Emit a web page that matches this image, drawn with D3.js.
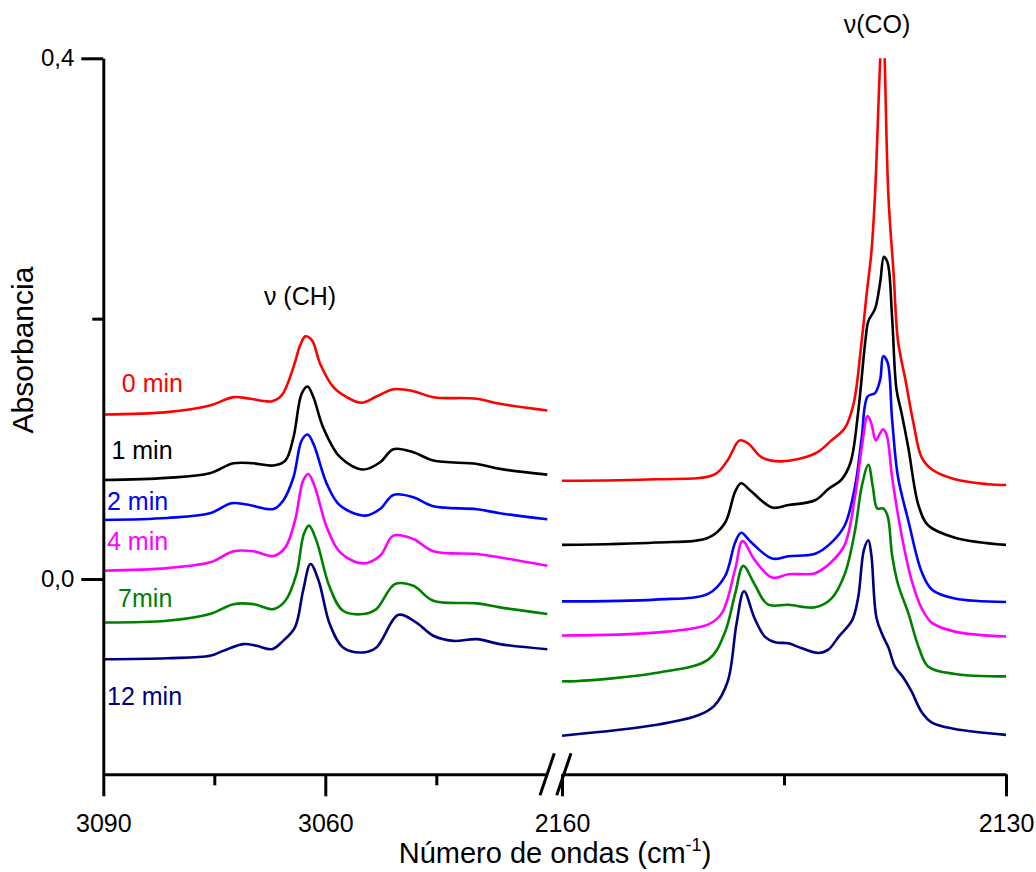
<!DOCTYPE html>
<html>
<head>
<meta charset="utf-8">
<script src="https://cdn.jsdelivr.net/npm/d3@7"></script>
<style>
  html, body { margin: 0; padding: 0; background: #fff; }
  svg { display: block; font-family: "Liberation Sans", Arial, sans-serif; }
</style>
</head>
<body>
<svg id="chart" width="1036" height="872"></svg>
<script>
// ---------- DATA ----------
// Left panel: ν(CH) region, [wavenumber (cm-1), absorbance]
const ch_0min = [[3090,0.1264],[3081.4,0.1282],[3075.6,0.1333],[3072.4,0.1397],[3070.2,0.1385],[3067.2,0.1366],[3065.9,0.141],[3064.3,0.1628],[3063.4,0.1795],[3062.7,0.1864],[3061.8,0.1833],[3060.7,0.1654],[3058.9,0.1474],[3057.1,0.1397],[3055.1,0.1354],[3053.1,0.1402],[3050.8,0.1458],[3048.1,0.1443],[3045.4,0.1397],[3039.5,0.1385],[3036.4,0.1346],[3030,0.1295]];
const ch_1min = [[3090,0.0761],[3081.4,0.0777],[3075.6,0.0813],[3072.4,0.0889],[3069.7,0.0889],[3067.0,0.0872],[3065.4,0.0910],[3064.3,0.1089],[3063.2,0.1423],[3062.4,0.1479],[3061.6,0.1397],[3060.3,0.1166],[3058.0,0.0936],[3054.9,0.0841],[3052.6,0.0897],[3050.8,0.0997],[3048.1,0.0974],[3045.4,0.0910],[3039.5,0.0884],[3036.4,0.0846],[3030,0.0802]];
const ch_2min = [[3090,0.0454],[3081.4,0.0469],[3075.6,0.0505],[3072.7,0.0582],[3070.6,0.0572],[3067.0,0.0538],[3065.7,0.0602],[3064.3,0.0782],[3063.2,0.1064],[3062.4,0.1110],[3061.6,0.1038],[3059.8,0.0731],[3058.0,0.0564],[3054.6,0.0487],[3052.6,0.0538],[3050.8,0.0646],[3048.1,0.0628],[3045.4,0.0559],[3039.5,0.0536],[3036.4,0.0505],[3030,0.0459]];
const ch_4min = [[3090,0.0064],[3081.4,0.0084],[3075.6,0.0128],[3072.4,0.0213],[3069.7,0.0213],[3067.0,0.0177],[3065.4,0.0243],[3064.1,0.0448],[3063.0,0.0756],[3062.3,0.0807],[3061.4,0.0705],[3059.8,0.0397],[3058.0,0.0205],[3054.9,0.0120],[3052.6,0.0179],[3050.8,0.0333],[3048.1,0.0307],[3045.4,0.0213],[3039.5,0.0192],[3036.4,0.0166],[3030,0.0102]];
const ch_7min = [[3090,-0.0334],[3081.4,-0.0321],[3075.6,-0.0269],[3072.4,-0.0193],[3069.7,-0.0193],[3067.0,-0.0231],[3065.4,-0.0167],[3063.9,0.0038],[3062.9,0.0346],[3062.2,0.0410],[3061.2,0.0295],[3059.4,-0.0064],[3057.6,-0.0244],[3054.9,-0.0269],[3053.1,-0.0231],[3050.6,-0.0039],[3048.1,-0.0052],[3045.4,-0.0167],[3039.5,-0.0187],[3036.4,-0.0218],[3030,-0.0269]];
const ch_12min = [[3090,-0.0616],[3081.4,-0.0608],[3075.6,-0.0590],[3073.8,-0.0552],[3071.1,-0.0500],[3069.3,-0.0513],[3067.2,-0.0539],[3065.7,-0.0475],[3064.1,-0.0372],[3063.0,-0.0090],[3062.0,0.0115],[3060.9,-0.0013],[3059.4,-0.0346],[3057.6,-0.0526],[3054.9,-0.0564],[3053.1,-0.0526],[3050.1,-0.0275],[3047.7,-0.0334],[3045.4,-0.0436],[3042.7,-0.0475],[3039.5,-0.0462],[3036.4,-0.0500],[3030,-0.0539]];

// Right panel: ν(CO) region
const co_0min = [[2160,0.0755],[2153.7,0.0766],[2149.7,0.0803],[2148.8,0.0915],[2148.0,0.1065],[2147.4,0.1039],[2146.5,0.0934],[2145.2,0.0904],[2142.9,0.0964],[2141.8,0.1065],[2140.9,0.1158],[2140.3,0.1345],[2139.75,0.1832],[2139.4,0.2205],[2139.1,0.2505],[2138.85,0.2953],[2138.6,0.3701],[2138.5,0.40],[2138.35,0.45],[2138.2,0.40],[2137.95,0.2953],[2137.6,0.2355],[2137.3,0.1832],[2136.8,0.1532],[2136.25,0.1196],[2135.7,0.0934],[2135.0,0.0841],[2133.45,0.0766],[2131.2,0.0728],[2130,0.0722]];
const co_1min = [[2160,0.0262],[2153.7,0.0280],[2150.1,0.0318],[2149.0,0.0429],[2148.3,0.0672],[2147.9,0.0736],[2147.2,0.0672],[2145.8,0.0549],[2144.7,0.0568],[2142.9,0.0605],[2142.0,0.0692],[2141.1,0.0766],[2140.5,0.0897],[2140.0,0.1271],[2139.5,0.1832],[2139.3,0.1981],[2138.85,0.2075],[2138.5,0.2280],[2138.25,0.2475],[2138.0,0.2430],[2137.7,0.2018],[2137.4,0.1458],[2137.05,0.1271],[2136.6,0.1009],[2135.9,0.0561],[2135.25,0.0411],[2133.45,0.0318],[2130,0.0262]];
const co_2min = [[2160,-0.0172],[2153.7,-0.0158],[2150.1,-0.0112],[2149.0,0.0018],[2148.3,0.0280],[2147.9,0.0355],[2147.2,0.0280],[2145.8,0.0157],[2144.7,0.0175],[2142.9,0.0194],[2141.8,0.0280],[2140.9,0.0411],[2140.2,0.0710],[2139.75,0.1084],[2139.35,0.1402],[2138.85,0.1428],[2138.5,0.1532],[2138.3,0.1712],[2138.0,0.1663],[2137.7,0.1233],[2137.3,0.0785],[2136.6,0.0448],[2135.7,0.0055],[2135.0,-0.0082],[2133.45,-0.0150],[2130,-0.0176]];
const co_4min = [[2160,-0.0434],[2153.7,-0.0412],[2150.1,-0.0348],[2149.2,-0.0262],[2148.3,0.0075],[2147.8,0.0292],[2147.0,0.0149],[2145.8,0.0011],[2144.7,0.0037],[2142.9,0.0045],[2141.8,0.0131],[2140.9,0.0262],[2140.2,0.0635],[2139.75,0.1009],[2139.35,0.1252],[2139.1,0.1196],[2138.8,0.1065],[2138.5,0.1122],[2138.3,0.1151],[2138.05,0.1102],[2137.7,0.0785],[2137.05,0.0336],[2136.4,0.0],[2135.7,-0.0225],[2135.0,-0.0337],[2133.45,-0.0404],[2130,-0.0442]];
const co_7min = [[2160,-0.0785],[2159.1,-0.0785],[2153.7,-0.0722],[2150.1,-0.0617],[2149.0,-0.0412],[2148.3,-0.0112],[2147.75,0.0101],[2147.0,-0.0038],[2146.1,-0.0195],[2144.7,-0.0198],[2142.9,-0.0217],[2141.8,-0.0150],[2140.9,0.0037],[2140.2,0.0374],[2139.75,0.0710],[2139.3,0.0878],[2139.0,0.0710],[2138.7,0.0542],[2138.3,0.0542],[2138.0,0.0485],[2137.7,0.0187],[2137.3,-0.0038],[2136.6,-0.0262],[2135.9,-0.0524],[2135.25,-0.0673],[2133.45,-0.0729],[2130,-0.0748]];
const co_12min = [[2160,-0.1204],[2153.7,-0.1122],[2150.8,-0.1047],[2149.7,-0.0972],[2148.8,-0.0785],[2148.2,-0.0337],[2147.7,-0.0094],[2147.0,-0.0299],[2146.3,-0.0442],[2145.6,-0.0486],[2144.7,-0.0494],[2143.8,-0.0532],[2142.7,-0.0568],[2142.0,-0.0542],[2141.3,-0.0442],[2140.4,-0.0318],[2140.0,-0.0150],[2139.6,0.0224],[2139.3,0.0298],[2139.1,0.0187],[2138.75,-0.0299],[2138.3,-0.0442],[2137.95,-0.0524],[2137.5,-0.0673],[2136.95,-0.0755],[2136.4,-0.0860],[2135.7,-0.1021],[2135.0,-0.1103],[2133.45,-0.1152],[2130,-0.1197]];

const seriesNames = ["0 min", "1 min", "2 min", "4 min", "7min", "12 min"];
const seriesColors = ["#ff0000", "#000000", "#0000ff", "#ff00ff", "#008000", "#000080"];
const leftSeries = [ch_0min, ch_1min, ch_2min, ch_4min, ch_7min, ch_12min];
const rightSeries = [co_0min, co_1min, co_2min, co_4min, co_7min, co_12min];
// label anchor positions in data units (left panel)
const labelWave = [3087.5, 3088.9, 3089.5, 3089.5, 3088.0, 3089.5];
const labelAbs = [0.144, 0.0925, 0.0533, 0.0225, -0.0213, -0.0966];

const yMajorTicks = [0.0, 0.4];
const yMinorTicks = [0.2];
const xLeftMajor = [3090, 3060];
const xLeftMinor = [3075, 3045];
const xRightMajor = [2160, 2130];
const xRightMinor = [2145];

// ---------- SCALES ----------
const svg = d3.select("#chart");
const xL = d3.scaleLinear().domain([3090, 3030]).range([103.3, 547.3]);
const xR = d3.scaleLinear().domain([2160, 2130]).range([562, 1006]);
const y = d3.scaleLinear().domain([-0.15, 0.4]).range([774.3, 58.3]);
const locale = d3.formatLocale({decimal: ",", thousands: ".", grouping: [3], currency: ["", ""]});
const fmtY = locale.format(".1f");
const AXW = 3;
const FONT = "Liberation Sans, Arial, sans-serif";

// clip for the right panel (peak exceeds 0.4)
svg.append("defs").append("clipPath").attr("id", "clipR")
  .append("rect").attr("x", 555).attr("y", y(0.4)).attr("width", 460).attr("height", y(-0.15) - y(0.4));

// ---------- LINES ----------
const lineL = d3.line().x(d => xL(d[0])).y(d => y(d[1])).curve(d3.curveCatmullRom.alpha(0.5));
const lineR = d3.line().x(d => xR(d[0])).y(d => y(d[1])).curve(d3.curveCatmullRom.alpha(0.5));

svg.append("g").selectAll("path").data(leftSeries).join("path")
  .attr("d", lineL).attr("fill", "none")
  .attr("stroke", (d, i) => seriesColors[i]).attr("stroke-width", 2.6)
  .attr("stroke-linejoin", "round");

svg.append("g").attr("clip-path", "url(#clipR)").selectAll("path").data(rightSeries).join("path")
  .attr("d", lineR).attr("fill", "none")
  .attr("stroke", (d, i) => seriesColors[i]).attr("stroke-width", 2.6)
  .attr("stroke-linejoin", "round");

// ---------- AXES ----------
function styleAxis(g, fontSize) {
  g.select(".domain").attr("stroke-width", AXW).attr("stroke", "#000");
  g.selectAll(".tick line").attr("stroke-width", AXW).attr("stroke", "#000");
  g.selectAll(".tick text").attr("font-size", fontSize).attr("font-family", FONT).attr("fill", "#000");
}

// Y axis
const yAxisMajor = svg.append("g").attr("transform", `translate(${xL(3090)},0)`)
  .call(d3.axisLeft(y).tickValues(yMajorTicks).tickFormat(fmtY).tickSize(22).tickSizeOuter(0).tickPadding(7));
styleAxis(yAxisMajor, 24);
const yAxisMinor = svg.append("g").attr("transform", `translate(${xL(3090)},0)`)
  .call(d3.axisLeft(y).tickValues(yMinorTicks).tickFormat("").tickSize(11).tickSizeOuter(0));
styleAxis(yAxisMinor, 24);
yAxisMinor.select(".domain").remove();

// Bottom-left axis
const bx = y(-0.15);
const xlMaj = svg.append("g").attr("transform", `translate(0,${bx})`)
  .call(d3.axisBottom(xL).tickValues(xLeftMajor).tickFormat(d3.format("d")).tickSize(22).tickSizeOuter(0).tickPadding(18));
styleAxis(xlMaj, 25);
const xlMin = svg.append("g").attr("transform", `translate(0,${bx})`)
  .call(d3.axisBottom(xL).tickValues(xLeftMinor).tickFormat("").tickSize(11).tickSizeOuter(0));
styleAxis(xlMin, 25);
xlMin.select(".domain").remove();

// Bottom-right axis
const xrMaj = svg.append("g").attr("transform", `translate(0,${bx})`)
  .call(d3.axisBottom(xR).tickValues(xRightMajor).tickFormat(d3.format("d")).tickSize(22).tickSizeOuter(0).tickPadding(18));
styleAxis(xrMaj, 25);
const xrMin = svg.append("g").attr("transform", `translate(0,${bx})`)
  .call(d3.axisBottom(xR).tickValues(xRightMinor).tickFormat("").tickSize(11).tickSizeOuter(0));
styleAxis(xrMin, 25);
xrMin.select(".domain").remove();

// axis break marks
const brk = svg.append("g").attr("stroke", "#000").attr("stroke-width", AXW);
[[540, 554.3], [556.7, 571]].forEach(([a, b]) => {
  brk.append("line").attr("x1", a).attr("y1", bx + 21).attr("x2", b).attr("y2", bx - 21);
});

// ---------- TEXT ----------
svg.append("text")
  .attr("transform", "translate(33,350) rotate(-90)")
  .attr("x", 0).attr("y", 0)
  .attr("text-anchor", "middle").attr("font-size", 30).attr("font-family", FONT)
  .text("Absorbancia");

const xt = svg.append("text").attr("x", 555).attr("y", 863)
  .attr("text-anchor", "middle").attr("font-size", 29).attr("font-family", FONT);
xt.append("tspan").text("Número de ondas (cm");
xt.append("tspan").attr("font-size", 18).attr("dy", -12).text("-1");
xt.append("tspan").attr("dy", 12).text(")");

svg.append("g").selectAll("text").data(seriesNames).join("text")
  .attr("x", (d, i) => xL(labelWave[i]))
  .attr("y", (d, i) => y(labelAbs[i]))
  .attr("fill", (d, i) => seriesColors[i])
  .attr("font-size", 25).attr("font-family", FONT)
  .text(d => d);

svg.append("text").attr("x", 300).attr("y", 305).attr("text-anchor", "middle")
  .attr("font-size", 25).attr("font-family", FONT).text("ν (CH)");
svg.append("text").attr("x", 877).attr("y", 33).attr("text-anchor", "middle")
  .attr("font-size", 25).attr("font-family", FONT).text("ν(CO)");
</script>
</body>
</html>
